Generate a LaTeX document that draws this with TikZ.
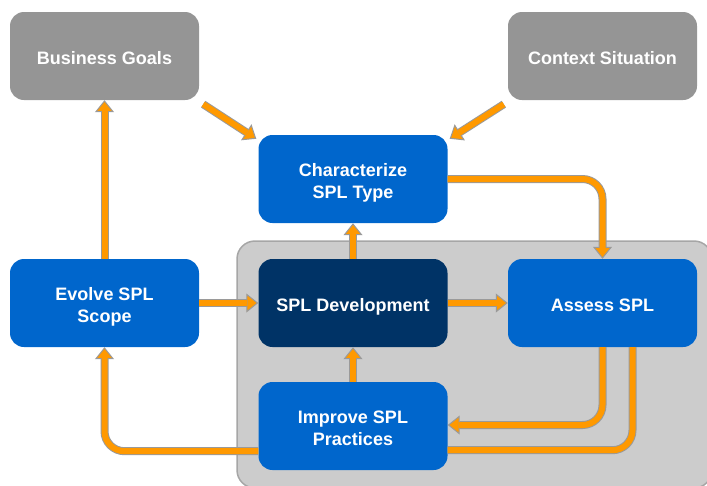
\documentclass[tikz,border=0pt]{standalone}
\usepackage{fontspec}
\setmainfont{Liberation Sans}
\usetikzlibrary{arrows.meta,calc}
\definecolor{gbox}{HTML}{959595}
\definecolor{bbox}{HTML}{0066CC}
\definecolor{nbox}{HTML}{003366}
\definecolor{bgfill}{HTML}{CCCCCC}
\definecolor{bgline}{HTML}{A6A6A6}
\definecolor{aorange}{HTML}{FF9900}
\definecolor{agray}{HTML}{9A9A9A}
\newcommand\txl[1]{\rule[-3pt]{0pt}{22pt}\smash{#1}}
\tikzset{
  box/.style={rectangle, rounded corners=14pt, minimum width=189pt, minimum height=88pt,
    inner sep=0pt, text=white, align=center,
    font=\fontsize{18}{22}\selectfont\bfseries},
  graybox/.style={box, fill=gbox},
  bluebox/.style={box, fill=bbox},
  navybox/.style={box, fill=nbox},
  fatout/.style={line width=8pt, draw=agray, rounded corners=20pt,
    -{Triangle[length=12pt 0 0, width=19pt 0 0, line width=1pt, fill=aorange]}},
  fatin/.style={line width=6pt, draw=aorange, rounded corners=20pt, shorten >=11pt},
  lineout/.style={line width=8pt, draw=agray, rounded corners=20pt},
  linein/.style={line width=6pt, draw=aorange, rounded corners=20pt}
}
\newcommand\fatarrow[1]{\draw[fatout] #1; \draw[fatin] #1;}
\newcommand\fatline[1]{\draw[lineout] #1; \draw[linein] #1;}
\begin{document}
\begin{tikzpicture}[x=1pt,y=-1pt]
\useasboundingbox (0,0) rectangle (707,485);
\draw[fill=bgfill, draw=bgline, line width=1.5pt, rounded corners=18pt] (237,241) rectangle (712,488);
\node[graybox] (bg) at (104.5,56) {\txl{Business Goals}};
\node[graybox] (cs) at (602.5,56) {\txl{Context Situation}};
\node[bluebox] (char) at (353,179) {\txl{Characterize}\\\txl{SPL Type}};
\node[bluebox] (evolve) at (104.5,303) {\txl{Evolve SPL}\\\txl{Scope}};
\node[navybox] (dev) at (353,303) {\txl{SPL Development}};
\node[bluebox] (assess) at (602.5,303) {\txl{Assess SPL}};
\node[bluebox] (improve) at (353,426) {\txl{Improve SPL}\\\txl{Practices}};
\fatarrow{($(bg.south east)+(4,4)$) -- ($(char.north west)+(-2,4)$)}
\fatarrow{($(cs.south west)+(-4,4)$) -- ($(char.north east)+(2,4)$)}
\fatarrow{(char.east) -| (assess.north)}
\fatarrow{(evolve.east) -- (dev.west)}
\fatarrow{(dev.east) -- (assess.west)}
\fatarrow{(dev.north) -- (char.south)}
\fatarrow{(improve.north) -- (dev.south)}
\fatarrow{(evolve.north) -- (bg.south)}
\fatarrow{(assess.south) |- ($(improve.east)+(0,-1)$)}
\fatline{($(assess.south)+(30,0)$) |- ($(improve.south east)+(0,-20)$)}
\fatarrow{($(improve.south west)+(0,-19)$) -| (evolve.south)}
\end{tikzpicture}
\end{document}
